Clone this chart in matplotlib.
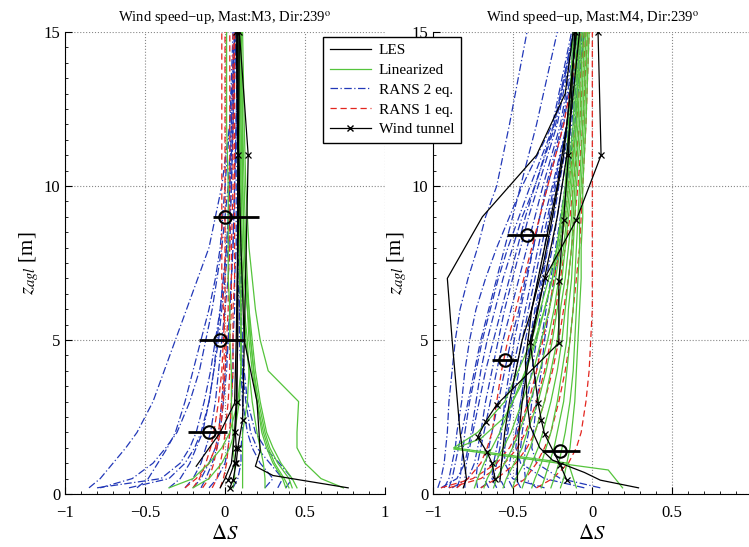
import numpy as np
import matplotlib
matplotlib.use("Agg")
import matplotlib.pyplot as plt
from matplotlib.ticker import AutoMinorLocator
from matplotlib.lines import Line2D

plt.rcParams['font.family'] = ['Liberation Serif', 'DejaVu Serif']
plt.rcParams['mathtext.fontset'] = 'stix'

BLUE = '#2238b8'
RED = '#e3261f'
GREEN = '#55c43c'

# ---------------- M3 (left panel) ----------------
z_m3 = [0.2, 0.5, 1, 1.5, 2, 3, 4, 5, 6, 7, 8, 10, 12, 15]

rans2_m3 = [
    [-0.85, -0.78, -0.70, -0.62, -0.55, -0.45, -0.38, -0.31, -0.24, -0.17, -0.10, -0.02, 0.03, 0.06],
    [-0.78, -0.58, -0.45, -0.37, -0.30, -0.22, -0.16, -0.12, -0.08, -0.05, -0.02, 0.02, 0.04, 0.06],
    [-0.55, -0.48, -0.42, -0.36, -0.31, -0.25, -0.20, -0.15, -0.10, -0.06, -0.03, 0.00, 0.03, 0.05],
    [-0.80, -0.40, -0.28, -0.22, -0.18, -0.13, -0.09, -0.06, -0.03, -0.01, 0.01, 0.03, 0.04, 0.06],
    [-0.35, -0.28, -0.22, -0.18, -0.14, -0.10, -0.07, -0.05, -0.03, -0.01, 0.01, 0.03, 0.05, 0.06],
    [-0.25, -0.20, -0.15, -0.12, -0.09, -0.06, -0.04, -0.02, 0.00, 0.02, 0.03, 0.04, 0.05, 0.07],
    [-0.15, -0.12, -0.08, -0.05, -0.03, -0.01, 0.01, 0.02, 0.03, 0.04, 0.05, 0.06, 0.07, 0.08],
    [0.25, 0.30, 0.22, 0.17, 0.14, 0.11, 0.10, 0.09, 0.09, 0.08, 0.08, 0.08, 0.08, 0.08],
    [0.33, 0.36, 0.28, 0.20, 0.16, 0.13, 0.11, 0.10, 0.09, 0.09, 0.08, 0.08, 0.08, 0.09],
    [0.38, 0.42, 0.34, 0.25, 0.19, 0.14, 0.12, 0.11, 0.10, 0.10, 0.09, 0.09, 0.09, 0.09],
    [-0.20, -0.15, -0.10, -0.06, -0.04, -0.02, 0.00, 0.02, 0.03, 0.04, 0.05, 0.06, 0.07, 0.08],
    [-0.10, -0.05, 0.00, 0.02, 0.03, 0.04, 0.05, 0.05, 0.06, 0.06, 0.07, 0.07, 0.07, 0.08],
    [0.05, 0.08, 0.10, 0.10, 0.11, 0.11, 0.11, 0.10, 0.10, 0.10, 0.10, 0.09, 0.09, 0.09],
    [-0.60, -0.35, -0.25, -0.19, -0.15, -0.10, -0.07, -0.04, -0.02, 0.00, 0.02, 0.04, 0.05, 0.07],
]

rans1_m3 = [
    [-0.20, -0.16, -0.12, -0.09, -0.07, -0.04, -0.02, -0.01, 0.00, 0.00, 0.00, 0.00, 0.00, 0.00],
    [-0.14, -0.10, -0.07, -0.05, -0.03, -0.01, 0.00, 0.01, 0.02, 0.02, 0.03, 0.03, 0.03, 0.03],
    [-0.08, -0.05, -0.03, -0.01, 0.00, 0.02, 0.03, 0.03, 0.04, 0.04, 0.04, 0.05, 0.05, 0.05],
    [-0.03, -0.01, 0.01, 0.02, 0.03, 0.04, 0.05, 0.05, 0.05, 0.06, 0.06, 0.06, 0.06, 0.06],
    [-0.25, -0.18, -0.10, -0.06, -0.04, -0.02, -0.01, 0.00, -0.01, -0.02, -0.02, -0.02, -0.02, -0.02],
]

lin_m3 = [
    [0.74, 0.60, 0.50, 0.45, 0.45, 0.46, 0.27, 0.22, 0.19, 0.17, 0.15, 0.13, 0.12, 0.11],
    [0.45, 0.42, 0.35, 0.30, 0.26, 0.22, 0.19, 0.17, 0.15, 0.14, 0.13, 0.12, 0.11, 0.10],
    [0.42, 0.40, 0.33, 0.28, 0.25, 0.21, 0.18, 0.16, 0.14, 0.13, 0.12, 0.11, 0.10, 0.10],
    [0.38, 0.36, 0.30, 0.26, 0.23, 0.20, 0.17, 0.15, 0.14, 0.12, 0.11, 0.10, 0.10, 0.09],
    [0.25, 0.25, 0.24, 0.22, 0.20, 0.17, 0.15, 0.14, 0.12, 0.11, 0.10, 0.10, 0.09, 0.09],
    [0.11, 0.11, 0.11, 0.11, 0.11, 0.14, 0.15, 0.13, 0.12, 0.11, 0.10, 0.09, 0.09, 0.08],
    [-0.35, -0.20, -0.10, -0.02, 0.03, 0.08, 0.10, 0.10, 0.10, 0.10, 0.09, 0.09, 0.08, 0.08],
    [-0.20, -0.10, -0.02, 0.03, 0.06, 0.09, 0.10, 0.10, 0.10, 0.09, 0.09, 0.08, 0.08, 0.08],
    [0.40, 0.37, 0.31, 0.27, 0.24, 0.20, 0.18, 0.16, 0.15, 0.13, 0.12, 0.11, 0.11, 0.10],
    [0.05, 0.06, 0.06, 0.05, 0.05, 0.04, 0.04, 0.03, 0.03, 0.02, 0.02, 0.02, 0.01, 0.01],
]

les_m3 = [
    ([0.2, 0.6, 0.9, 1.4, 3, 5, 8, 10, 12, 15], [0.77, 0.30, 0.19, 0.22, 0.20, 0.12, 0.10, 0.09, 0.08, 0.08]),
    ([0.9, 2.0, 2.95, 5, 8, 10, 12, 15], [-0.18, -0.03, 0.06, 0.07, 0.08, 0.09, 0.08, 0.08]),
    ([0.2, 0.5, 1.0, 2.0, 3, 5, 8, 15], [-0.03, 0.00, 0.04, 0.06, 0.07, 0.08, 0.08, 0.09]),
]

tunnel_m3 = [
    ([0.45, 1.0, 1.5, 2.0, 3.0, 11, 15], [0.02, 0.06, 0.07, 0.065, 0.075, 0.08, 0.07]),
    ([0.2, 0.45, 1.0, 1.5, 2.4, 11, 15], [0.03, 0.05, 0.07, 0.08, 0.11, 0.145, 0.09]),
]

meas_z_m3 = [9.0, 5.0, 2.0]
meas_x_m3 = [0.0, -0.03, -0.10]
meas_lo_m3 = [-0.075, -0.16, -0.23]
meas_hi_m3 = [0.21, 0.125, 0.01]

# ---------------- M4 (right panel) ----------------
z_m4 = [0.2, 0.5, 1, 1.5, 2, 3, 4, 5, 6, 7, 8, 9, 10, 12, 15]

rans2_m4 = [
    [-0.97, -0.95, -0.93, -0.92, -0.91, -0.90, -0.88, -0.86, -0.83, -0.78, -0.72, -0.67, -0.60, -0.52, -0.41],
    [-0.90, -0.88, -0.86, -0.84, -0.82, -0.78, -0.74, -0.70, -0.65, -0.60, -0.55, -0.50, -0.45, -0.35, -0.22],
    [-0.80, -0.80, -0.79, -0.77, -0.75, -0.71, -0.67, -0.62, -0.57, -0.52, -0.47, -0.42, -0.36, -0.24, -0.12],
    [-0.72, -0.73, -0.72, -0.70, -0.68, -0.64, -0.60, -0.56, -0.51, -0.46, -0.41, -0.36, -0.31, -0.20, -0.10],
    [-0.65, -0.68, -0.67, -0.65, -0.63, -0.59, -0.55, -0.51, -0.46, -0.42, -0.37, -0.33, -0.28, -0.18, -0.09],
    [-0.60, -0.63, -0.62, -0.60, -0.58, -0.54, -0.50, -0.46, -0.42, -0.38, -0.34, -0.30, -0.25, -0.16, -0.08],
    [-0.55, -0.58, -0.57, -0.55, -0.53, -0.50, -0.46, -0.42, -0.38, -0.34, -0.30, -0.27, -0.23, -0.15, -0.07],
    [-0.50, -0.53, -0.52, -0.50, -0.48, -0.45, -0.42, -0.38, -0.35, -0.31, -0.28, -0.24, -0.21, -0.14, -0.06],
    [-0.45, -0.48, -0.47, -0.45, -0.44, -0.41, -0.38, -0.35, -0.32, -0.29, -0.25, -0.22, -0.19, -0.13, -0.06],
    [-0.35, -0.42, -0.43, -0.42, -0.40, -0.38, -0.35, -0.32, -0.29, -0.26, -0.23, -0.20, -0.17, -0.12, -0.05],
    [0.05, -0.20, -0.35, -0.38, -0.37, -0.35, -0.32, -0.30, -0.27, -0.24, -0.21, -0.18, -0.16, -0.11, -0.05],
    [-0.95, -0.85, -0.80, -0.78, -0.76, -0.73, -0.70, -0.66, -0.61, -0.56, -0.50, -0.44, -0.36, -0.23, -0.12],
    [-0.88, -0.78, -0.74, -0.72, -0.70, -0.67, -0.63, -0.59, -0.55, -0.50, -0.45, -0.40, -0.34, -0.22, -0.11],
    [-0.30, -0.50, -0.55, -0.55, -0.54, -0.51, -0.48, -0.44, -0.40, -0.36, -0.32, -0.28, -0.24, -0.16, -0.08],
    [-0.93, -0.90, -0.88, -0.86, -0.85, -0.82, -0.80, -0.77, -0.73, -0.67, -0.60, -0.52, -0.44, -0.25, -0.13],
    [-0.70, -0.62, -0.60, -0.58, -0.57, -0.55, -0.52, -0.49, -0.45, -0.41, -0.37, -0.33, -0.29, -0.19, -0.09],
    [-0.05, -0.30, -0.45, -0.48, -0.47, -0.45, -0.42, -0.39, -0.36, -0.32, -0.28, -0.25, -0.22, -0.15, -0.07],
    [-0.85, -0.83, -0.82, -0.81, -0.80, -0.77, -0.73, -0.69, -0.64, -0.59, -0.53, -0.46, -0.39, -0.24, -0.11],
]

rans1_m4 = [
    [-0.35, -0.25, -0.15, -0.10, -0.07, -0.04, -0.02, -0.01, 0.00, 0.00, 0.00, 0.00, 0.00, 0.00, 0.00],
    [-0.95, -0.75, -0.60, -0.52, -0.47, -0.40, -0.35, -0.31, -0.27, -0.24, -0.20, -0.17, -0.15, -0.10, -0.05],
    [-0.90, -0.70, -0.55, -0.47, -0.42, -0.35, -0.30, -0.26, -0.23, -0.20, -0.17, -0.14, -0.12, -0.08, -0.04],
    [-0.50, -0.42, -0.35, -0.30, -0.26, -0.21, -0.17, -0.14, -0.12, -0.10, -0.08, -0.07, -0.06, -0.04, -0.02],
    [-0.70, -0.60, -0.48, -0.41, -0.36, -0.30, -0.25, -0.21, -0.18, -0.15, -0.13, -0.11, -0.09, -0.06, -0.03],
    [-0.85, -0.78, -0.70, -0.66, -0.63, -0.60, -0.57, -0.53, -0.48, -0.43, -0.38, -0.33, -0.28, -0.18, -0.07],
]

lin_m4 = [
    [-0.74, -0.72, -0.68, -0.63, -0.58, -0.50, -0.42, -0.36, -0.30, -0.25, -0.21, -0.18, -0.16, -0.12, -0.10],
    [-0.68, -0.66, -0.61, -0.56, -0.51, -0.44, -0.37, -0.32, -0.27, -0.23, -0.20, -0.17, -0.15, -0.11, -0.09],
    [-0.62, -0.60, -0.55, -0.50, -0.46, -0.39, -0.33, -0.28, -0.24, -0.21, -0.18, -0.16, -0.14, -0.10, -0.08],
    [-0.56, -0.54, -0.49, -0.44, -0.41, -0.34, -0.29, -0.25, -0.22, -0.19, -0.17, -0.15, -0.13, -0.10, -0.08],
    [-0.50, -0.48, -0.43, -0.39, -0.36, -0.30, -0.26, -0.22, -0.20, -0.17, -0.15, -0.13, -0.12, -0.09, -0.07],
    [-0.44, -0.42, -0.38, -0.34, -0.31, -0.26, -0.22, -0.19, -0.17, -0.15, -0.13, -0.12, -0.11, -0.08, -0.06],
    [-0.38, -0.36, -0.32, -0.29, -0.26, -0.22, -0.19, -0.16, -0.15, -0.13, -0.12, -0.11, -0.10, -0.07, -0.05],
    [-0.32, -0.30, -0.27, -0.24, -0.22, -0.18, -0.16, -0.14, -0.12, -0.11, -0.10, -0.09, -0.08, -0.06, -0.04],
    [-0.26, -0.24, -0.21, -0.19, -0.17, -0.14, -0.12, -0.11, -0.10, -0.09, -0.08, -0.08, -0.07, -0.05, -0.03],
    [-0.20, -0.18, -0.16, -0.14, -0.13, -0.11, -0.10, -0.09, -0.08, -0.07, -0.07, -0.06, -0.06, -0.04, -0.02],
]
lin_m4_extra = [
    ([0.2, 0.78, 1.46, 1.8, 2.5, 3.5, 5, 7, 10, 15], [0.19, 0.10, -0.87, -0.70, -0.55, -0.45, -0.35, -0.25, -0.17, -0.12]),
    ([0.2, 1.0, 1.5, 2.0, 3, 5, 8, 10, 15], [-0.10, -0.15, -0.87, -0.72, -0.55, -0.38, -0.22, -0.16, -0.11]),
]

les_m4 = [
    ([0.2, 0.5, 2, 5, 7, 9, 11, 13, 15], [-0.81, -0.79, -0.83, -0.88, -0.91, -0.69, -0.35, -0.17, -0.12]),
    ([0.2, 0.45, 0.7, 1.1, 1.5, 2.2, 3, 4.3, 6, 8, 10, 12, 15],
     [0.29, 0.05, -0.05, -0.25, -0.33, -0.39, -0.41, -0.42, -0.38, -0.30, -0.22, -0.16, -0.10]),
    ([0.4, 1.0, 2, 3, 4, 5, 6, 7.4, 9, 11, 15], [-0.58, -0.57, -0.55, -0.52, -0.48, -0.44, -0.38, -0.31, -0.25, -0.18, -0.10]),
    ([0.4, 1.0, 2, 3, 4, 5, 7, 9, 11, 15], [-0.47, -0.47, -0.46, -0.44, -0.41, -0.38, -0.30, -0.22, -0.16, -0.08]),
]

tunnel_m4 = [
    ([0.5, 1.0, 1.35, 1.85, 2.35, 2.9, 4.9, 6.9, 8.9, 11, 15],
     [-0.61, -0.63, -0.66, -0.72, -0.67, -0.60, -0.21, -0.21, -0.18, -0.15, -0.11]),
    ([0.45, 0.93, 1.95, 2.4, 2.95, 4.95, 7.0, 8.9, 11, 15],
     [-0.16, -0.20, -0.30, -0.32, -0.34, -0.39, -0.30, -0.10, 0.055, 0.036]),
]

meas_z_m4 = [8.4, 4.35, 1.4]
meas_x_m4 = [-0.41, -0.55, -0.20]
meas_lo_m4 = [-0.535, -0.63, -0.316]
meas_hi_m4 = [-0.28, -0.47, -0.077]


def draw_panel(ax, z, rans2, rans1, lin, lin_extra, les, tunnel, mz, mx, mlo, mhi):
    for xs in rans2:
        ax.plot(xs, z, color=BLUE, lw=0.9, dashes=(6, 2, 1, 2))
    for xs in rans1:
        ax.plot(xs, z, color=RED, lw=0.9, dashes=(5, 3))
    for xs in lin:
        ax.plot(xs, z, color=GREEN, lw=0.9)
    for zz, xs in lin_extra:
        ax.plot(xs, zz, color=GREEN, lw=0.9)
    for zz, xs in les:
        ax.plot(xs, zz, color='k', lw=0.9)
    for zz, xs in tunnel:
        ax.plot(xs, zz, color='k', lw=0.9, marker='x', ms=4, mew=0.9)
    mx = np.array(mx)
    err = [mx - np.array(mlo), np.array(mhi) - mx]
    ax.errorbar(mx, mz, xerr=err, fmt='o', mfc='none', mec='k', ecolor='k',
                ms=9, mew=1.5, elinewidth=2, capsize=0, zorder=5)

    ax.set_xlim(-1, 1)
    ax.set_ylim(0, 15)
    ax.set_yticks([0, 5, 10, 15])
    ax.xaxis.set_minor_locator(AutoMinorLocator(5))
    ax.yaxis.set_minor_locator(AutoMinorLocator(10))
    ax.tick_params(which='both', direction='in', labelsize=12)
    ax.tick_params(axis='x', which='major', pad=8)
    ax.tick_params(which='major', length=5)
    ax.tick_params(which='minor', length=2.5)
    ax.grid(True, which='major', linestyle=':', color='#888888', lw=0.8)
    ax.spines['top'].set_visible(False)
    ax.spines['right'].set_visible(False)
    ax.set_xlabel(r'$\Delta S$', fontsize=15, labelpad=3)
    ax.set_ylabel(r'$z_{agl}$ [m]', fontsize=15, labelpad=2)


fig = plt.figure(figsize=(7.49, 5.47), dpi=100)
ax1 = fig.add_axes([0.0868, 0.0969, 0.4272, 0.8446])
ax2 = fig.add_axes([0.5781, 0.0969, 0.4254, 0.8446])

draw_panel(ax1, z_m3, rans2_m3, rans1_m3, lin_m3, [], les_m3, tunnel_m3,
           meas_z_m3, meas_x_m3, meas_lo_m3, meas_hi_m3)
draw_panel(ax2, z_m4, rans2_m4, rans1_m4, lin_m4, lin_m4_extra, les_m4, tunnel_m4,
           meas_z_m4, meas_x_m4, meas_lo_m4, meas_hi_m4)

ax1.set_xticks([-1, -0.5, 0, 0.5, 1])
ax1.set_xticklabels(['\u22121', '\u22120.5', '0', '0.5', '1'])
ax2.set_xticks([-1, -0.5, 0, 0.5])
ax2.set_xticklabels(['\u22121', '\u22120.5', '0', '0.5'])

ax1.set_title('Wind speed\u2212up, Mast:M3, Dir:239$^{\\rm o}$', fontsize=10.5, pad=7)
ax2.set_title('Wind speed\u2212up, Mast:M4, Dir:239$^{\\rm o}$', fontsize=10.5, pad=7)

handles = [
    Line2D([], [], color='k', lw=0.9),
    Line2D([], [], color=GREEN, lw=0.9),
    Line2D([], [], color=BLUE, lw=0.9, dashes=(6, 2, 1, 2)),
    Line2D([], [], color=RED, lw=0.9, dashes=(5, 3)),
    Line2D([], [], color='k', lw=0.9, marker='x', ms=4),
]
labels = ['LES', 'Linearized', 'RANS 2 eq.', 'RANS 1 eq.', 'Wind tunnel']
leg = fig.legend(handles, labels, loc='upper left', bbox_to_anchor=(0.431, 0.933),
                 borderaxespad=0, fontsize=11, frameon=True, fancybox=False,
                 framealpha=1, edgecolor='k', handlelength=2.7, numpoints=1,
                 borderpad=0.45, labelspacing=0.4, handletextpad=0.5)
leg.get_frame().set_linewidth(1.0)

fig.savefig('out.png', dpi=100)
